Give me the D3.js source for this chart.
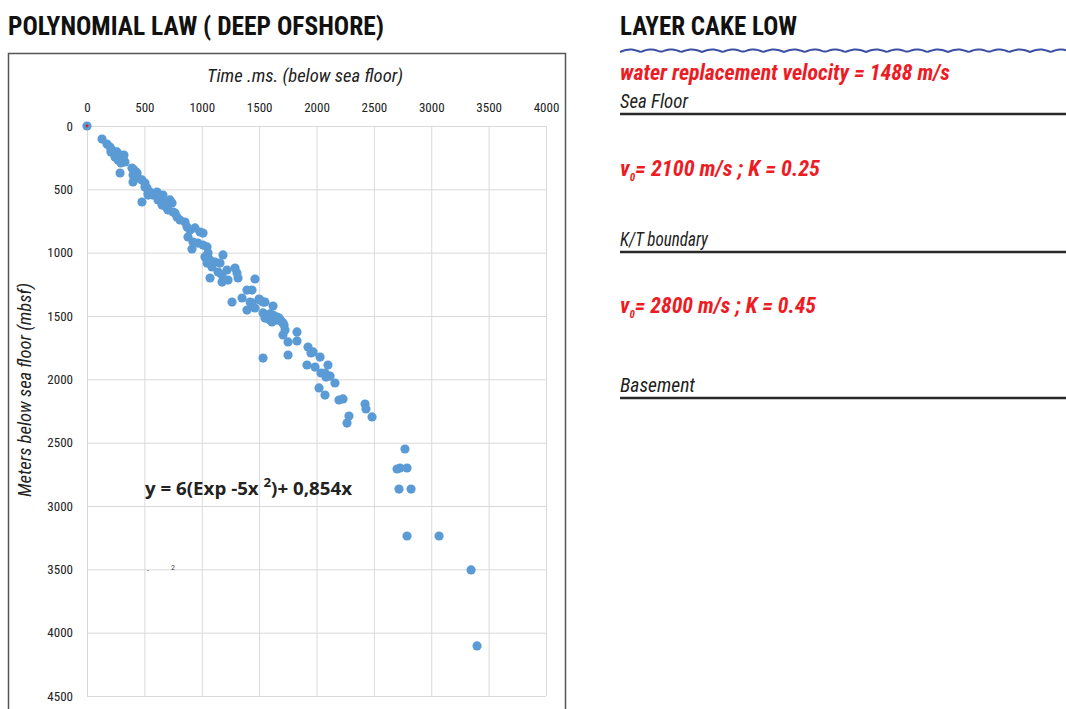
<!DOCTYPE html>
<html><head><meta charset="utf-8">
<script src="https://cdn.jsdelivr.net/npm/d3@7"></script>
<style>
body{margin:0;background:#fff;}
svg{display:block;}
.nar{font-family:"Liberation Sans Narrow","Roboto Condensed","Arial Narrow","Liberation Sans",sans-serif;}
</style></head>
<body><svg id="c" width="1066" height="709"></svg>
<script>
// ---- data: travel time (ms below sea floor) vs depth (m below sea floor)
const timeMs = [0,131,174,200,218,244,261,270,288,288,305,314,331,270,244,209,296,322,288,392,401,436,444,410,427,479,505,523,549,532,479,401,505,532,575,610,636,662,619,662,706,723,654,697,741,706,750,767,784,810,854,872,898,941,985,1011,880,924,967,1011,1046,915,1055,1028,1072,1116,1159,1089,1142,1177,1220,1229,1185,1046,1072,1177,1316,1290,1464,1307,1264,1351,1394,1438,1421,1394,1447,1499,1534,1438,1464,1508,1551,1621,1577,1621,1656,1569,1595,1656,1682,1708,1726,1708,1752,1830,1830,1534,1752,1926,1970,2031,2100,1917,1987,2074,2118,1534,1560,1595,1647,1673,1612,1638,1691,1717,1551,1952,2039,2083,2161,2022,2074,2196,2231,2423,2431,2484,2283,2266,2771,2702,2728,2789,2719,2824,2789,3068,3347,3399];
const depthM = [0,103,142,166,189,213,205,229,229,245,261,253,284,268,245,205,292,229,371,332,387,371,411,347,363,426,450,489,521,545,600,442,482,529,545,521,561,545,584,608,608,584,624,647,608,663,679,687,718,742,758,797,821,805,837,845,876,916,924,940,955,971,1003,1034,1058,1074,1082,1113,1153,1176,1137,1216,1018,1082,1200,1232,1200,1121,1208,1161,1390,1358,1295,1295,1390,1453,1429,1366,1390,1397,1437,1374,1390,1421,1516,1492,1532,1508,1532,1508,1532,1555,1611,1650,1705,1626,1697,1832,1808,1745,1784,1824,1887,1887,1903,1950,1974,1476,1492,1484,1508,1516,1547,1532,1540,1571,1516,1792,1950,1982,2029,2068,2124,2163,2155,2195,2234,2297,2290,2345,2550,2708,2700,2700,2866,2866,3237,3237,3505,4105];
const xTicks = [0,500,1000,1500,2000,2500,3000,3500,4000];
const yTicks = [0,500,1000,1500,2000,2500,3000,3500,4000,4500];
const layerLines = ["Sea Floor","K/T boundary","Basement"];
const points = timeMs.map((t,i)=>({t, d: depthM[i]}));

const svg = d3.select("#c");
const NAR = '"Liberation Sans Narrow","Roboto Condensed","Arial Narrow","Liberation Sans",sans-serif';

// titles
svg.append("text").attr("class","nar").attr("x",8).attr("y",35)
  .attr("font-size",26).attr("font-weight","bold").attr("fill","#111")
  .attr("textLength",376).attr("lengthAdjust","spacingAndGlyphs")
  .text("POLYNOMIAL LAW ( DEEP OFSHORE)");
svg.append("text").attr("class","nar").attr("x",620).attr("y",35)
  .attr("font-size",26).attr("font-weight","bold").attr("fill","#111")
  .attr("textLength",177).attr("lengthAdjust","spacingAndGlyphs")
  .text("LAYER CAKE LOW");

// chart frame
svg.append("rect").attr("x",8.5).attr("y",53.5).attr("width",557).attr("height",680)
  .attr("fill","none").attr("stroke","#555").attr("stroke-width",1.5);

const x = d3.scaleLinear().domain([0,4000]).range([87,546]);
const y = d3.scaleLinear().domain([0,4500]).range([126,696]);

const gx = svg.append("g").attr("transform","translate(0,126)")
  .call(d3.axisTop(x).tickValues(xTicks).tickSize(-570).tickSizeOuter(0).tickPadding(14).tickFormat(d3.format("d")));
const gy = svg.append("g").attr("transform","translate(87,0)")
  .call(d3.axisLeft(y).tickValues(yTicks).tickSize(-459).tickSizeOuter(0).tickPadding(14).tickFormat(d3.format("d")));
[gx,gy].forEach(g=>{
  g.select(".domain").attr("stroke","#d9d9d9");
  g.selectAll(".tick line").attr("stroke","#d9d9d9");
  g.selectAll(".tick text").attr("font-family",NAR).attr("font-size",13).attr("fill","#222");
});

// axis titles
svg.append("text").attr("x",305).attr("y",82).attr("text-anchor","middle")
  .attr("font-family",NAR).attr("font-style","italic").attr("font-size",19).attr("fill","#222")
  .attr("textLength",196).attr("lengthAdjust","spacingAndGlyphs")
  .text("Time .ms.  (below sea floor)");
svg.append("text").attr("transform","translate(31,390) rotate(-90)").attr("text-anchor","middle")
  .attr("font-family",NAR).attr("font-style","italic").attr("font-size",18).attr("fill","#222")
  .attr("textLength",214).attr("lengthAdjust","spacingAndGlyphs")
  .text("Meters below sea floor (mbsf)");

// points
svg.append("g").selectAll("circle").data(points).join("circle")
  .attr("cx",d=>x(d.t)).attr("cy",d=>y(d.d)).attr("r",4.6).attr("fill","#5b9bd5");
svg.append("circle").attr("cx",x(points[0].t)).attr("cy",y(points[0].d)).attr("r",1.4).attr("fill","#e02020");

// equation
const eq = svg.append("text").attr("x",145).attr("y",495).attr("font-family",'"Open Sans","Liberation Sans",sans-serif')
  .attr("font-weight","bold").attr("font-size",17).attr("fill","#222");
eq.append("tspan").text("y = 6(Exp -5x ");
eq.append("tspan").attr("dy",-8).attr("font-size",12).text("2");
eq.append("tspan").attr("dy",8).text(")+ 0,854x");
eq.attr("textLength",207).attr("lengthAdjust","spacingAndGlyphs");
svg.append("text").attr("x",147).attr("y",573).attr("font-family",NAR).attr("font-size",8).attr("fill","#444").text("-");
svg.append("text").attr("x",171).attr("y",570).attr("font-family",NAR).attr("font-size",8).attr("fill","#444").text("2");

// right panel: sea surface wave
const wave = d3.range(620,1067,2).map(px=>[px, 52 - 2.5*Math.abs(Math.sin((px-620)/20.5*Math.PI))]);
svg.append("path").attr("d",d3.line()(wave)).attr("fill","none").attr("stroke","#3c4fa3").attr("stroke-width",2);

const red = "#ed1c24";
svg.append("text").attr("x",620).attr("y",80).attr("font-family",NAR).attr("font-weight","bold")
  .attr("font-style","italic").attr("font-size",22).attr("fill",red)
  .attr("textLength",330).attr("lengthAdjust","spacingAndGlyphs")
  .text("water replacement velocity = 1488 m/s");

const layerY = [114,252,398];
const labelW = [68,88,75];
const labelBase = [108,246,392];
layerLines.forEach((name,i)=>{
  svg.append("text").attr("x",620).attr("y",labelBase[i]).attr("font-family",NAR)
    .attr("font-style","italic").attr("font-size",20).attr("fill","#222")
    .attr("textLength",labelW[i]).attr("lengthAdjust","spacingAndGlyphs").text(name);
  svg.append("line").attr("x1",620).attr("x2",1066).attr("y1",layerY[i]).attr("y2",layerY[i])
    .attr("stroke","#2a2a2a").attr("stroke-width",2.5);
});

function vel(yb, v, k, w){
  const t = svg.append("text").attr("x",620).attr("y",yb).attr("font-family",NAR)
    .attr("font-weight","bold").attr("font-style","italic").attr("font-size",22).attr("fill",red);
  t.append("tspan").text("v");
  t.append("tspan").attr("dy",5).attr("font-size",11).text("0");
  t.append("tspan").attr("dy",-5).text(v);
  t.append("tspan").text(k);
  t.attr("textLength",w).attr("lengthAdjust","spacingAndGlyphs");
}
vel(176,"= 2100 m/s ; ","K = 0.25",200);
vel(313,"= 2800 m/s ; ","K = 0.45",196);
</script></body></html>
